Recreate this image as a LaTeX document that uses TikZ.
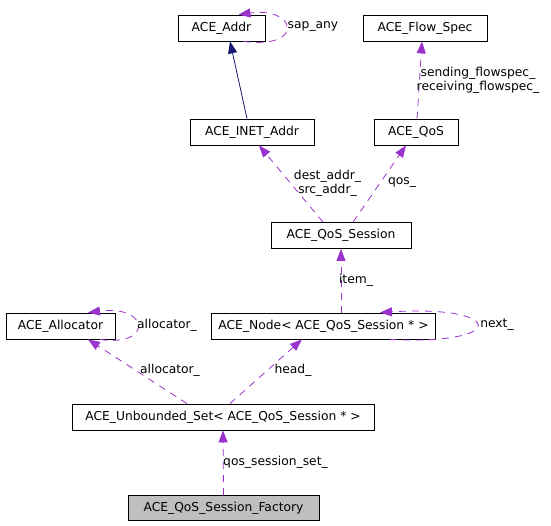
\documentclass[tikz,border=0pt]{standalone}
\usepackage{fontspec}
\setmainfont{DejaVu Sans}
\usetikzlibrary{arrows.meta,calc}
\definecolor{depcol}{HTML}{9A32CD}
\definecolor{inhcol}{HTML}{191970}
\definecolor{factfill}{HTML}{BFBFBF}
\begin{document}
\begin{tikzpicture}[x=1pt,y=-1pt,
  every node/.style={font=\fontsize{12.3}{14}\selectfont, inner sep=0pt},
  cls/.style={draw=black, line width=0.8pt, rectangle, minimum height=26pt},
  lbl/.style={align=center},
  dep/.style={draw=depcol, line width=0.8pt, dash pattern=on 7pt off 6pt,
    -{Triangle[length=12pt,width=9pt,fill=depcol]}},
  inh/.style={draw=inhcol, line width=0.8pt,
    -{Triangle[length=12pt,width=9pt,fill=inhcol]}}]
\useasboundingbox (0,0) rectangle (551,525);
% classes
\node[cls, minimum width=87pt]  (addr)  at (221.5,28)  {ACE\_Addr};
\node[cls, minimum width=124pt] (flow)  at (425,28)    {ACE\_Flow\_Spec};
\node[cls, minimum width=124pt] (inet)  at (252,132)   {ACE\_INET\_Addr};
\node[cls, minimum width=84pt]  (qos)   at (416,132)   {ACE\_QoS};
\node[cls, minimum width=140pt] (sess)  at (341,235.5) {ACE\_QoS\_Session};
\node[cls, minimum width=109pt] (alloc) at (60.5,326)  {ACE\_Allocator};
\node[cls, minimum width=224pt] (anode) at (323.5,326) {ACE\_Node< ACE\_QoS\_Session * >};
\node[cls, minimum width=302pt] (uset)  at (223,417)   {ACE\_Unbounded\_Set< ACE\_QoS\_Session * >};
\node[cls, minimum width=191pt, minimum height=25pt, fill=factfill] (fact) at (223.5,508) {ACE\_QoS\_Session\_Factory};
% edges
\draw[inh] ($(inet.north)+(-5,0)$) -- ($(addr.south)+(8.5,0)$);
\draw[dep] ($(qos.north)+(1,0)$) -- ($(flow.south)+(-3,0)$);
\draw[dep] ($(sess.north)+(-18,0)$) -- ($(inet.south)+(7,0)$);
\draw[dep] ($(sess.north)+(12,0)$) -- ($(qos.south)+(-10,0)$);
\draw[dep] ($(anode.north)+(17.5,0)$) -- (sess.south);
\draw[dep] ($(uset.north)+(-36,0)$) -- ($(alloc.south)+(27.5,0)$);
\draw[dep] ($(uset.north)+(7,0)$) -- ($(anode.south)+(-21.5,0)$);
\draw[dep] (fact.north) -- (uset.south);
% self loops
\draw[dep] ($(addr.south)+(22,0)$) .. controls +(62,8) and +(58,-8) .. ($(addr.north)+(17,0)$);
\draw[dep] ($(alloc.south)+(39.5,0)$) .. controls +(53,8) and +(62,-8) .. ($(alloc.north)+(27.5,0)$);
\draw[dep] ($(anode.south)+(66.5,0)$) .. controls +(120,6) and +(125,-8) .. ($(anode.north)+(56.5,0)$);
% labels
\node[lbl] (l1) at (313,27) {sap\_any};
\node[lbl] (l2) at (478,80) {sending\_flowspec\_\\receiving\_flowspec\_};
\node[lbl] (l3) at (327.5,183) {dest\_addr\_\\src\_addr\_};
\node[lbl] (l4) at (402,183) {qos\_};
\node[lbl] (l5) at (356,280) {item\_};
\node[lbl] (l6) at (167,325) {allocator\_};
\node[lbl] (l7) at (497,325) {next\_};
\node[lbl] (l8) at (170,370) {allocator\_};
\node[lbl] (l9) at (293,370) {head\_};
\node[lbl] (l10) at (275.5,462) {qos\_session\_set\_};
\end{tikzpicture}
\end{document}
